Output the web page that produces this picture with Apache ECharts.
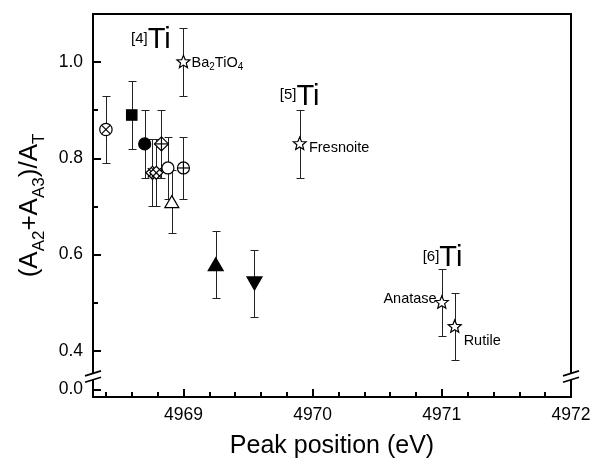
<!DOCTYPE html>
<html>
<head>
<meta charset="utf-8">
<script src="https://cdn.jsdelivr.net/npm/echarts@6/dist/echarts.min.js"></script>
<style>
  html, body { margin: 0; padding: 0; background: #fff; }
  #chart { width: 594px; height: 464px; }
</style>
</head>
<body>
<div id="chart"></div>
<script>
const FONT = '"Liberation Sans", Arial, Helvetica, sans-serif';

// Axis ranges; the y axis is broken below 0.4 and shows its zero just above the frame
const xMin = 4968.3, xMax = 4972;
const yMin = 0.304, yMax = 1.1;
const yZeroPos = 0.32;    // axis position carrying the "0.0" label
const yBreakPos = 0.3465; // where the break slashes sit

const xTickMajor = [4969, 4970, 4971, 4972];
const xTickMinor = [4968.4, 4968.6, 4968.8, 4969.2, 4969.4, 4969.6, 4969.8,
                    4970.2, 4970.4, 4970.6, 4970.8, 4971.2, 4971.4, 4971.6, 4971.8];
const yTickMajor = [yZeroPos, 0.4, 0.6, 0.8, 1.0];
const yTickMinor = [0.5, 0.7, 0.9];

// Samples: pre-edge peak position, (A_A2 + A_A3)/A_T ratio, error, marker
const samplePeak   = [4968.40, 4968.60, 4968.70, 4968.83, 4968.76, 4968.79, 4968.88, 4969.00, 4968.91, 4969.25, 4969.55];
const sampleRatio  = [0.86, 0.89, 0.83, 0.83, 0.77, 0.77, 0.78, 0.78, 0.71, 0.58, 0.54];
const sampleError  = [0.07, 0.07, 0.07, 0.07, 0.07, 0.07, 0.065, 0.065, 0.065, 0.07, 0.07];
const sampleMarker = ['circleX', 'squareFilled', 'circleFilled', 'diamondPlus', 'diamondX', 'diamondX',
                      'circle', 'circlePlus', 'triangle', 'triangleFilled', 'triangleDownFilled'];

// Reference compounds (star markers)
const refPeak  = [4969.00, 4969.90, 4971.00, 4971.10];
const refRatio = [1.00, 0.83, 0.50, 0.45];
const refError = [0.07, 0.07, 0.07, 0.07];
const refLabelText  = ['{m|Ba}{s|2}{m|TiO}{s|4}', '{m|Fresnoite}', '{m|Anatase}', '{m|Rutile}'];
const refLabelPeak  = [4969.063, 4969.971, 4970.960, 4971.169];
const refLabelRatio = [0.9975, 0.820, 0.507, 0.419];
const refLabelAlign = ['left', 'left', 'right', 'left'];

// Coordination labels [n]Ti
const siteSup   = ['[4]', '[5]', '[6]'];
const sitePeak  = [4968.594, 4969.746, 4970.852];
const siteRatio = [1.044, 0.927, 0.591];

const BLACK = '#000';

function starPoints(cx, cy, R, r) {
  const pts = [];
  for (let i = 0; i < 10; i++) {
    const a = -Math.PI / 2 + i * Math.PI / 5;
    const d = i % 2 ? r : R;
    pts.push([cx + d * Math.cos(a), cy + d * Math.sin(a)]);
  }
  return pts;
}

function markerShapes(kind, cx, cy) {
  const lw = 1.2;
  const open = { fill: '#fff', stroke: BLACK, lineWidth: lw };
  const solid = { fill: BLACK, stroke: BLACK, lineWidth: lw };
  const ln = (x1, y1, x2, y2) => ({ type: 'line', shape: { x1, y1, x2, y2 }, style: { stroke: BLACK, lineWidth: lw } });
  let r;
  switch (kind) {
    case 'circleX':
      r = 6.2;
      return [{ type: 'circle', shape: { cx, cy, r }, style: open },
              ln(cx - r * 0.707, cy - r * 0.707, cx + r * 0.707, cy + r * 0.707),
              ln(cx + r * 0.707, cy - r * 0.707, cx - r * 0.707, cy + r * 0.707)];
    case 'circlePlus':
      r = 6;
      return [{ type: 'circle', shape: { cx, cy, r }, style: open },
              ln(cx - r, cy, cx + r, cy), ln(cx, cy - r, cx, cy + r)];
    case 'circle':
      return [{ type: 'circle', shape: { cx, cy, r: 6 }, style: open }];
    case 'circleFilled':
      return [{ type: 'circle', shape: { cx, cy, r: 6 }, style: solid }];
    case 'squareFilled':
      return [{ type: 'rect', shape: { x: cx - 5.2, y: cy - 5.2, width: 10.4, height: 10.4 }, style: solid }];
    case 'diamondPlus':
      r = 7;
      return [{ type: 'polygon', shape: { points: [[cx, cy - r], [cx + r, cy], [cx, cy + r], [cx - r, cy]] }, style: open },
              ln(cx - r, cy, cx + r, cy), ln(cx, cy - r, cx, cy + r)];
    case 'diamondX': {
      r = 6.5;
      const e = r * 0.72;
      return [{ type: 'polygon', shape: { points: [[cx, cy - r], [cx + r, cy], [cx, cy + r], [cx - r, cy]] }, style: open },
              ln(cx - e, cy - e, cx + e, cy + e), ln(cx + e, cy - e, cx - e, cy + e)];
    }
    case 'triangle':
      return [{ type: 'polygon', shape: { points: [[cx, cy - 6], [cx + 7, cy + 6], [cx - 7, cy + 6]] }, style: open }];
    case 'triangleFilled':
      return [{ type: 'polygon', shape: { points: [[cx, cy - 6.5], [cx + 7.5, cy + 6.5], [cx - 7.5, cy + 6.5]] }, style: solid }];
    case 'triangleDownFilled':
      return [{ type: 'polygon', shape: { points: [[cx - 7.5, cy - 6.5], [cx + 7.5, cy - 6.5], [cx, cy + 6.5]] }, style: solid }];
    case 'star':
      return [{ type: 'polygon', shape: { points: starPoints(cx, cy, 6.8, 3.0) }, style: open }];
  }
  return [];
}

const errorData = samplePeak.map((x, i) => [x, sampleRatio[i], sampleError[i]])
  .concat(refPeak.map((x, i) => [x, refRatio[i], refError[i]]));
const sampleData = samplePeak.map((x, i) => [x, sampleRatio[i]]);
const refData = refPeak.map((x, i) => [x, refRatio[i]]);
const refLabelData = refLabelPeak.map((x, i) => [x, refLabelRatio[i]]);
const siteData = sitePeak.map((x, i) => [x, siteRatio[i]]);

function renderErrorBar(params, api) {
  const x = api.value(0), y = api.value(1), e = api.value(2);
  const top = api.coord([x, y + e]);
  const bot = api.coord([x, y - e]);
  const px = Math.round(top[0]) + 0.5;
  const t = Math.round(top[1]) + 0.5, b = Math.round(bot[1]) + 0.5;
  const hw = 4;
  const st = { stroke: '#222', lineWidth: 1 };
  return {
    type: 'group',
    children: [
      { type: 'line', shape: { x1: px, y1: t, x2: px, y2: b }, style: st },
      { type: 'line', shape: { x1: px - hw, y1: t, x2: px + hw, y2: t }, style: st },
      { type: 'line', shape: { x1: px - hw, y1: b, x2: px + hw, y2: b }, style: st }
    ]
  };
}

function renderSample(params, api) {
  const p = api.coord([api.value(0), api.value(1)]);
  return { type: 'group', children: markerShapes(sampleMarker[params.dataIndex], p[0], p[1]) };
}

function renderRef(params, api) {
  const p = api.coord([api.value(0), api.value(1)]);
  return { type: 'group', children: markerShapes('star', p[0], p[1]) };
}

function renderRefLabel(params, api) {
  const p = api.coord([api.value(0), api.value(1)]);
  return {
    type: 'text',
    style: {
      x: p[0], y: p[1],
      text: refLabelText[params.dataIndex],
      align: refLabelAlign[params.dataIndex],
      verticalAlign: 'middle',
      fill: BLACK,
      rich: {
        m: { fontSize: 14.5, lineHeight: 16, verticalAlign: 'top', fontFamily: FONT, fill: BLACK },
        s: { fontSize: 10, lineHeight: 10, verticalAlign: 'top', padding: [7, 0, 0, 0], fontFamily: FONT, fill: BLACK }
      }
    }
  };
}

function renderSite(params, api) {
  const p = api.coord([api.value(0), api.value(1)]);
  return {
    type: 'text',
    style: {
      x: p[0], y: p[1],
      text: '{sup|' + siteSup[params.dataIndex] + '}{big|Ti}',
      align: 'left',
      verticalAlign: 'middle',
      fill: BLACK,
      rich: {
        sup: { fontSize: 15, lineHeight: 15, verticalAlign: 'top', padding: [5, 0, 0, 0], fontFamily: FONT, fill: BLACK },
        big: { fontSize: 29, lineHeight: 30, verticalAlign: 'top', fontFamily: FONT, fill: BLACK }
      }
    }
  };
}

const axisLineStyle = { color: BLACK, width: 2 };
const tickLineStyle = { color: BLACK, width: 2 };

const option = {
  animation: false,
  backgroundColor: '#fff',
  grid: { left: 93, right: 23, top: 14, bottom: 66 },
  xAxis: [
    {
      type: 'value', min: xMin, max: xMax, position: 'bottom',
      axisLine: { show: true, lineStyle: axisLineStyle },
      axisTick: { show: true, inside: true, length: 8, customValues: xTickMajor, lineStyle: tickLineStyle },
      axisLabel: { customValues: xTickMajor, color: BLACK, fontSize: 17.5, fontFamily: FONT, margin: 9,
                   formatter: v => String(Math.round(v)) },
      splitLine: { show: false },
      name: 'Peak position (eV)', nameLocation: 'middle', nameGap: 37,
      nameTextStyle: { fontSize: 25, color: BLACK, fontFamily: FONT }
    },
    {
      type: 'value', min: xMin, max: xMax, position: 'bottom',
      axisLine: { show: false },
      axisTick: { show: true, inside: true, length: 5, customValues: xTickMinor, lineStyle: tickLineStyle },
      axisLabel: { show: false },
      splitLine: { show: false }
    },
    {
      type: 'value', min: xMin, max: xMax, position: 'top',
      axisLine: { show: true, lineStyle: axisLineStyle },
      axisTick: { show: false }, axisLabel: { show: false }, splitLine: { show: false }
    }
  ],
  yAxis: [
    {
      type: 'value', min: yMin, max: yMax, position: 'left',
      axisLine: { show: true, lineStyle: axisLineStyle },
      axisTick: { show: true, inside: true, length: 8, customValues: yTickMajor, lineStyle: tickLineStyle },
      axisLabel: { customValues: yTickMajor, color: BLACK, fontSize: 17.5, fontFamily: FONT, margin: 10,
                   formatter: v => (v < 0.35 ? '0.0' : v.toFixed(1)) },
      splitLine: { show: false },
      name: '{m|(A}{s|A2}{m|+A}{s|A3}{m|)/A}{s|T}',
      nameLocation: 'middle', nameGap: 47, nameRotate: 90,
      nameTextStyle: {
        color: BLACK, fontFamily: FONT, fontSize: 26,
        rich: {
          m: { fontSize: 26, lineHeight: 28, verticalAlign: 'top', fontFamily: FONT, color: BLACK },
          s: { fontSize: 17, lineHeight: 17, verticalAlign: 'top', padding: [14, 0, 0, 0], fontFamily: FONT, color: BLACK }
        }
      }
    },
    {
      type: 'value', min: yMin, max: yMax, position: 'left',
      axisLine: { show: false },
      axisTick: { show: true, inside: true, length: 5, customValues: yTickMinor, lineStyle: tickLineStyle },
      axisLabel: { show: false },
      splitLine: { show: false }
    },
    {
      type: 'value', min: yMin, max: yMax, position: 'right',
      axisLine: { show: true, lineStyle: axisLineStyle },
      axisTick: { show: false }, axisLabel: { show: false }, splitLine: { show: false }
    }
  ],
  series: [
    { type: 'custom', name: 'error', renderItem: renderErrorBar, data: errorData,
      encode: { x: 0, y: 1 }, silent: true, z: 2 },
    { type: 'custom', name: 'samples', renderItem: renderSample, data: sampleData,
      encode: { x: 0, y: 1 }, silent: true, z: 3 },
    { type: 'custom', name: 'references', renderItem: renderRef, data: refData,
      encode: { x: 0, y: 1 }, silent: true, z: 3 },
    { type: 'custom', name: 'reference labels', renderItem: renderRefLabel, data: refLabelData,
      encode: { x: 0, y: 1 }, silent: true, z: 4 },
    { type: 'custom', name: 'coordination', renderItem: renderSite, data: siteData,
      encode: { x: 0, y: 1 }, silent: true, z: 4 }
  ]
};

const chart = echarts.init(document.getElementById('chart'));
chart.setOption(option);

// Break slashes on both vertical axes
function breakMark(cx, cy) {
  const d = 3.2, hx = 8, hy = 2.5;
  const st = { stroke: BLACK, lineWidth: 1.8 };
  return [
    { type: 'polygon', z: 100, silent: true,
      shape: { points: [[cx - hx, cy - d + hy], [cx + hx, cy - d - hy], [cx + hx, cy + d - hy], [cx - hx, cy + d + hy]] },
      style: { fill: '#fff' } },
    { type: 'line', z: 101, silent: true, shape: { x1: cx - hx, y1: cy - d + hy, x2: cx + hx, y2: cy - d - hy }, style: st },
    { type: 'line', z: 101, silent: true, shape: { x1: cx - hx, y1: cy + d + hy, x2: cx + hx, y2: cy + d - hy }, style: st }
  ];
}
const toPx = (x, y) => chart.convertToPixel({ xAxisIndex: 0, yAxisIndex: 0 }, [x, y]);
const pL = toPx(xMin, yBreakPos);
const pR = toPx(xMax, yBreakPos);
chart.setOption({ graphic: breakMark(pL[0], pL[1]).concat(breakMark(pR[0], pR[1])) });
</script>
</body>
</html>
